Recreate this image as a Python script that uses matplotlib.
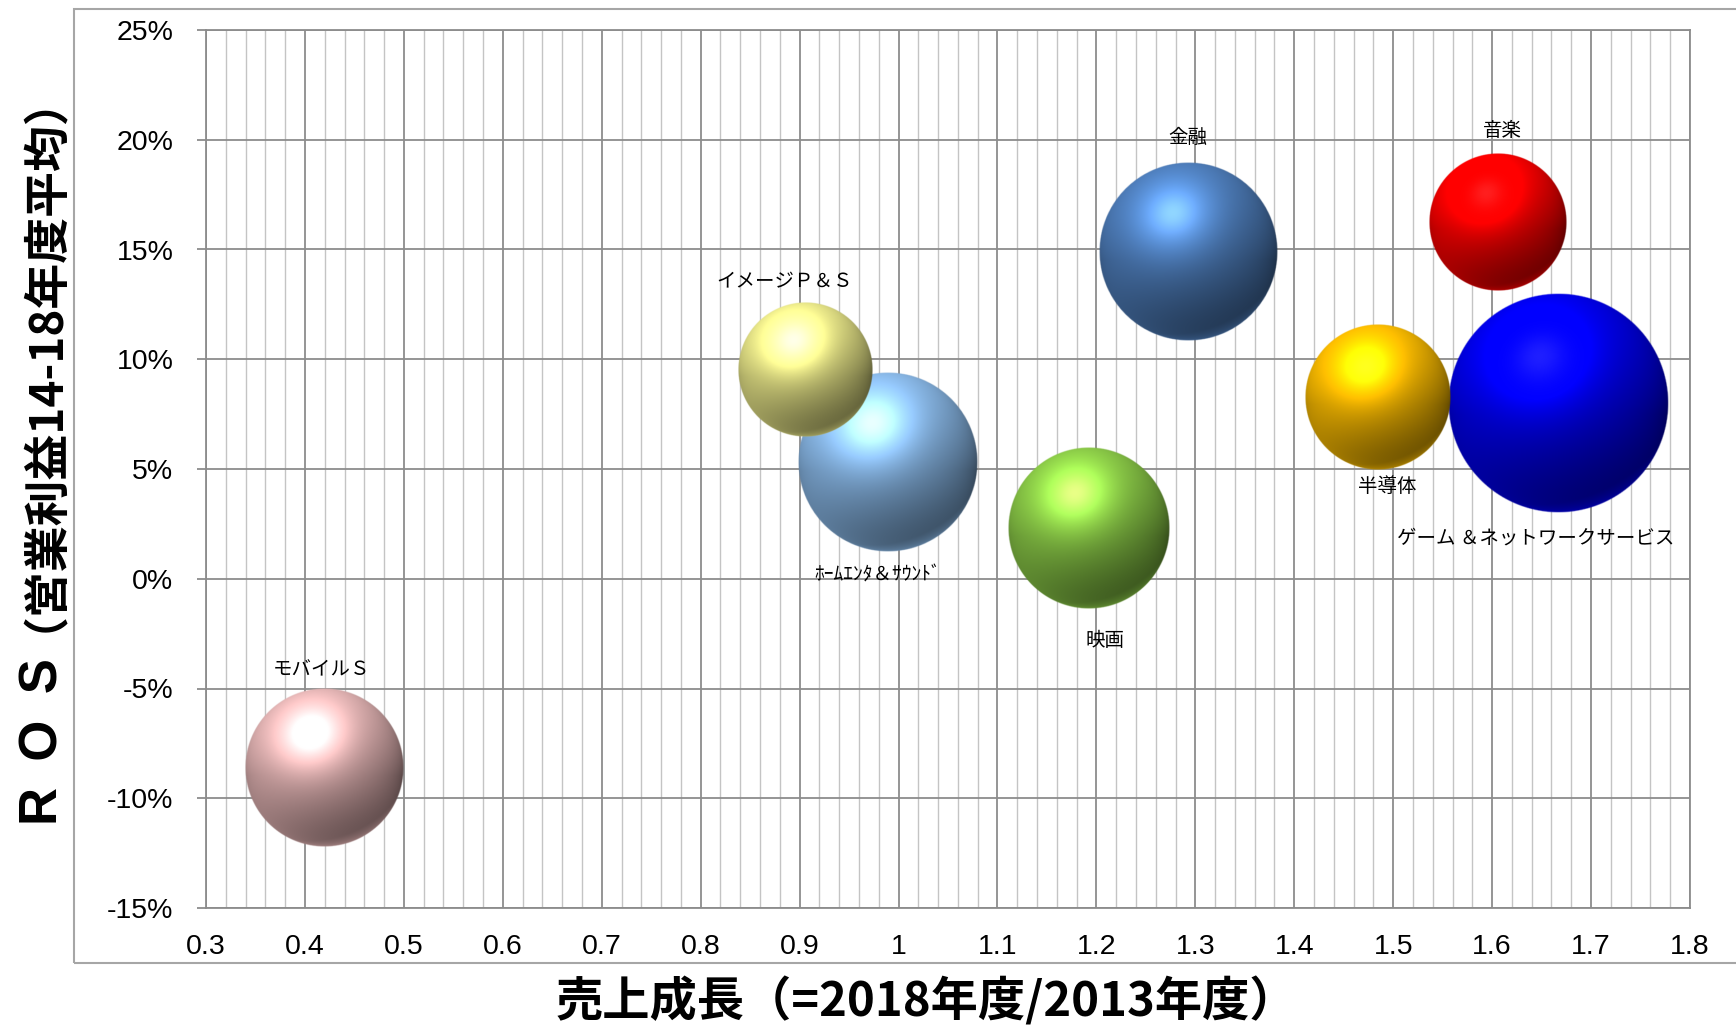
import numpy as np
import matplotlib
matplotlib.use("Agg")
import matplotlib.pyplot as plt
from matplotlib.patches import Rectangle
from matplotlib.ticker import FixedLocator, FixedFormatter, MultipleLocator

plt.rcParams["font.family"] = ["Noto Sans CJK JP", "DejaVu Sans"]

# data
segments = ["モバイルＳ", "イメージＰ＆Ｓ", "ﾎｰﾑｴﾝﾀ＆ｻｳﾝﾄﾞ", "映画",
            "金融", "音楽", "半導体", "ゲーム ＆ネットワークサービス"]
sales_growth = [0.419, 0.905, 0.989, 1.192, 1.293, 1.606, 1.485, 1.667]  # 2018/2013
ros_pct = [-8.6, 9.5, 5.3, 2.3, 14.9, 16.25, 8.3, 8.0]                   # %
bubble_size = [51.6, 37.1, 66.9, 54.2, 65.5, 39.3, 44.0, 100.0]          # relative area
colors = ["#e8b8b8", "#eeec8c", "#8cbcec", "#8ccc48", "#4f7fbd",
          "#ff0000", "#ffbf00", "#0000f0"]
# label offsets in pixels (dx, dy; dy positive = up)
label_offsets = [(-2, 98), (-20, 88), (-10, -113), (17, -112),
                 (-1, 114), (4, 92), (9, -90), (-23, -135)]

x_ticks = [0.3, 0.4, 0.5, 0.6, 0.7, 0.8, 0.9, 1.0, 1.1, 1.2, 1.3, 1.4, 1.5, 1.6, 1.7, 1.8]
x_tick_labels = ["0.3", "0.4", "0.5", "0.6", "0.7", "0.8", "0.9", "1", "1.1",
                 "1.2", "1.3", "1.4", "1.5", "1.6", "1.7", "1.8"]
y_ticks = [-15, -10, -5, 0, 5, 10, 15, 20, 25]
y_tick_labels = ["-15%", "-10%", "-5%", "0%", "5%", "10%", "15%", "20%", "25%"]

W, H = 1736, 1027
fig = plt.figure(figsize=(W / 100, H / 100), dpi=100)
ax = fig.add_axes([206 / W, 1 - 908 / H, (1690 - 206) / W, (908 - 30) / H])

# chart area frame
fig.patches.append(Rectangle((74 / W, 1 - 963 / H), 1.0, (963 - 9) / H,
                             transform=fig.transFigure, fill=False,
                             ec="#a6a6a6", lw=1.5))

ax.set_xlim(0.3, 1.8)
ax.set_ylim(-15, 25)
ax.xaxis.set_major_locator(FixedLocator(x_ticks))
ax.xaxis.set_major_formatter(FixedFormatter(x_tick_labels))
ax.xaxis.set_minor_locator(MultipleLocator(0.02))
ax.yaxis.set_major_locator(FixedLocator(y_ticks))
ax.yaxis.set_major_formatter(FixedFormatter(y_tick_labels))

ax.set_axisbelow(True)
ax.grid(which="major", color="#8c8c8c", lw=1.3)
ax.grid(which="minor", axis="x", color="#c4c4c4", lw=1.0)
for s in ax.spines.values():
    s.set_color("#8c8c8c")
    s.set_linewidth(1.3)
ax.tick_params(axis="y", which="major", length=6.5, width=1.3, color="#8c8c8c",
               pad=17, labelsize=20.5)
ax.tick_params(axis="x", which="both", length=0, pad=19, labelsize=20.5)
for lab in ax.get_xticklabels() + ax.get_yticklabels():
    lab.set_fontfamily(["Liberation Sans", "DejaVu Sans"])


def sphere_image(color, n=320):
    base = np.array(matplotlib.colors.to_rgb(color))
    u = np.linspace(-1, 1, n)
    U, V = np.meshgrid(u, -u)
    R = np.sqrt(U ** 2 + V ** 2)
    Z = np.sqrt(np.clip(1 - R ** 2, 0, 1))
    L = np.array([-0.30, 0.75, 0.58])
    L = L / np.linalg.norm(L)
    Hv = L + np.array([0, 0, 1.0])
    Hv = Hv / np.linalg.norm(Hv)
    ndl = U * L[0] + V * L[1] + Z * L[2]
    ndh = np.clip(U * Hv[0] + V * Hv[1] + Z * Hv[2], 0, 1)
    diff = np.clip((ndl + 0.45) / 1.45, 0, 1)
    rim = np.clip(-V - 0.1, 0, 1) * (1 - Z) ** 1.2
    shade = 0.30 + 0.75 * diff + 0.45 * ndh ** 10
    rgb = base[None, None, :] * shade[..., None]
    rgb += 0.5 * rim[..., None] * base[None, None, :]
    rgb += 0.12 * (ndh ** 40)[..., None]
    rgb = np.clip(rgb, 0, 1)
    alpha = np.clip((1 - R) * n / 2.5, 0, 1)
    return np.dstack([rgb, alpha])


max_r_px = 110
p0 = ax.transData.transform((0.3, -15))
p1 = ax.transData.transform((1.8, 25))
px_x = (p1[0] - p0[0]) / 1.5
px_y = (p1[1] - p0[1]) / 40.0

order = np.argsort(bubble_size)[::-1]
for k, i in enumerate(order):
    r = max_r_px * np.sqrt(bubble_size[i] / max(bubble_size))
    rx, ry = r / px_x, r / px_y
    x, y = sales_growth[i], ros_pct[i]
    ax.imshow(sphere_image(colors[i]), extent=[x - rx, x + rx, y - ry, y + ry],
              origin="upper", aspect="auto", interpolation="bilinear",
              zorder=3 + k)

for i, name in enumerate(segments):
    ax.annotate(name, (sales_growth[i], ros_pct[i]), xytext=label_offsets[i],
                textcoords="offset pixels", ha="center", va="center",
                fontsize=14, zorder=20)

ax.set_xlim(0.3, 1.8)
ax.set_ylim(-15, 25)

fig.text(926 / W, 1 - 1002 / H, "売上成長（=2018年度/2013年度）", ha="center",
         va="center", fontsize=34, fontweight="bold")
fig.text(44 / W, 1 - 742 / H, "R\u2002O\u2002S", ha="center", va="center",
         rotation=90, fontsize=38, fontweight="bold",
         fontfamily=["Liberation Sans", "DejaVu Sans"])
fig.text(20 / W, 1 - 340 / H, "（営業利益14-18年度平均）", ha="center",
         va="center", rotation=90, fontsize=33, fontweight="bold")

fig.savefig("out.png", dpi=100)
